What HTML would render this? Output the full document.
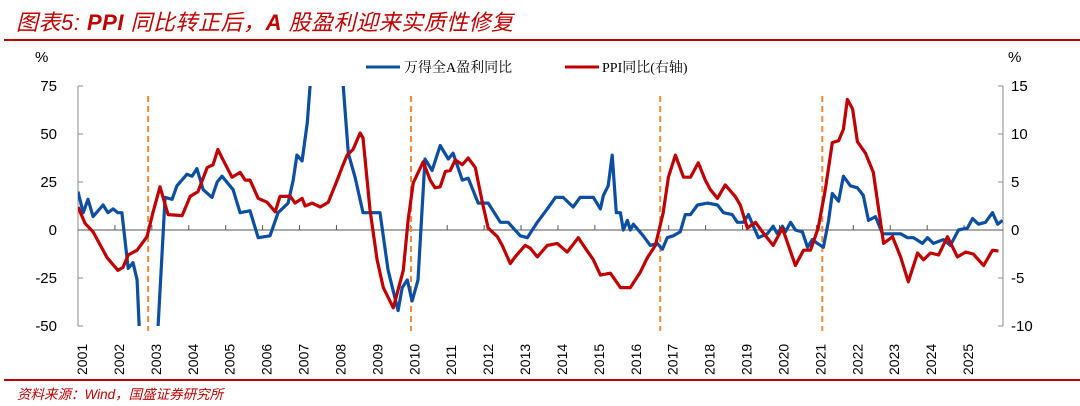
<!DOCTYPE html>
<html><head><meta charset="utf-8">
<style>
html,body{margin:0;padding:0;background:#fff;}
body{width:1080px;height:406px;position:relative;overflow:hidden;}
.title{position:absolute;left:16px;top:5px;font-family:"Liberation Sans","Noto Sans CJK SC",sans-serif;font-style:italic;font-size:22px;color:#c00000;white-space:nowrap;letter-spacing:0.5px;}
.src{position:absolute;left:17px;top:383px;font-family:"Liberation Sans","Noto Sans CJK SC",sans-serif;font-style:italic;font-size:13.5px;color:#c00000;white-space:nowrap;}
svg{position:absolute;left:0;top:0;}
</style></head><body>
<div class="title">图表5: <b>PPI</b> 同比转正后，<b>A</b> 股盈利迎来实质性修复</div>
<div class="src">资料来源：Wind，国盛证券研究所</div>
<svg id="chart" width="1080" height="406"></svg>
<script>
const years = [2001,2002,2003,2004,2005,2006,2007,2008,2009,2010,2011,2012,2013,2014,2015,2016,2017,2018,2019,2020,2021,2022,2023,2024,2025];
const leftTicks = [75,50,25,0,-25,-50];
const rightTicks = [15,10,5,0,-5,-10];
const eventDates = [2002.90,2010.02,2016.77,2021.16];
const profitDates = [2001.00,2001.14,2001.27,2001.41,2001.68,2001.81,2001.95,2002.08,2002.19,2002.36,2002.49,2002.60,2002.68,2002.84,2003.00,2003.17,2003.36,2003.55,2003.68,2003.95,2004.09,2004.22,2004.39,2004.63,2004.77,2004.90,2005.20,2005.39,2005.66,2005.88,2006.20,2006.42,2006.69,2006.83,2006.93,2007.07,2007.21,2007.29,2007.50,2007.82,2008.10,2008.18,2008.32,2008.51,2008.72,2009.18,2009.40,2009.67,2009.78,2009.92,2010.05,2010.21,2010.40,2010.59,2010.81,2011.03,2011.16,2011.41,2011.57,2011.84,2012.11,2012.44,2012.65,2012.98,2013.17,2013.44,2013.71,2013.93,2014.14,2014.41,2014.60,2014.96,2015.15,2015.23,2015.36,2015.47,2015.58,2015.69,2015.77,2015.88,2015.96,2016.04,2016.31,2016.50,2016.69,2016.83,2016.96,2017.12,2017.31,2017.45,2017.59,2017.78,2018.05,2018.32,2018.48,2018.72,2018.86,2019.02,2019.16,2019.29,2019.43,2019.67,2019.83,2019.94,2020.08,2020.16,2020.30,2020.43,2020.62,2020.76,2020.89,2021.03,2021.19,2021.33,2021.43,2021.60,2021.73,2021.92,2022.11,2022.27,2022.41,2022.60,2022.79,2023.28,2023.47,2023.63,2023.87,2024.01,2024.17,2024.44,2024.63,2024.85,2025.09,2025.23,2025.39,2025.58,2025.77,2025.91,2026.04];
const profitValues = [20,9,16,7,13,9,11,9,9,-20,-17,-26,-60,-65,-60,-50,17,16,23,29,28,32,21,17,25,28,21,9,10,-4,-3,9,14,26,39,36,56,76,110,125,95,76,40,27,9,9,-21,-42,-30,-26,-37,-26,37,31,44,37,40,26,27,14,14,4,4,-3,-4,4,11,17,17,12,17,17,11,18,23,39,9,9,0,5,0,3,-3,-8,-7,-10,-4,-3,-1,8,8,13,14,13,9,8,4,4,8,2,-4,-2,2,-2,2,-1,4,0,-1,-9,-5,-7,-9,5,19,15,28,23,22,18,5,7,-2,-2,-4,-4,-7,-4,-7,-5,-8,0,1,6,3,4,9,3,5];
const ppiDates = [2001.00,2001.19,2001.41,2001.79,2002.08,2002.22,2002.36,2002.60,2002.87,2003.03,2003.22,2003.44,2003.82,2004.04,2004.25,2004.50,2004.66,2004.79,2004.93,2005.17,2005.39,2005.53,2005.66,2005.88,2006.12,2006.34,2006.47,2006.75,2006.88,2007.07,2007.15,2007.34,2007.56,2007.78,2008.02,2008.18,2008.29,2008.45,2008.64,2008.72,2008.91,2009.10,2009.27,2009.54,2009.81,2009.94,2010.08,2010.35,2010.54,2010.67,2010.81,2010.95,2011.08,2011.22,2011.41,2011.57,2011.76,2011.95,2012.11,2012.36,2012.49,2012.71,2012.84,2013.11,2013.25,2013.44,2013.71,2013.98,2014.25,2014.55,2014.74,2014.96,2015.15,2015.42,2015.69,2015.96,2016.23,2016.42,2016.64,2016.85,2016.99,2017.18,2017.40,2017.59,2017.80,2017.99,2018.13,2018.32,2018.53,2018.80,2018.94,2019.13,2019.35,2019.56,2019.83,2020.08,2020.43,2020.65,2020.84,2021.05,2021.24,2021.43,2021.60,2021.73,2021.84,2021.98,2022.11,2022.33,2022.54,2022.82,2023.06,2023.28,2023.49,2023.74,2023.90,2024.09,2024.31,2024.55,2024.82,2025.04,2025.25,2025.53,2025.77,2025.93];
const ppiValues = [2.4,0.7,-0.2,-2.9,-4.2,-3.9,-2.6,-2.1,-0.7,1.8,4.5,1.6,1.5,3.5,4.0,6.5,6.8,8.4,7.3,5.5,6.0,5.2,5.2,3.3,2.9,1.9,3.5,3.5,2.8,3.3,2.5,2.8,2.4,2.9,5.2,6.8,7.8,8.4,10.1,9.6,2.1,-3.1,-6.0,-8.1,-4.2,1.0,4.9,7.1,5.2,4.4,4.5,6.1,6.2,7.3,6.8,7.5,6.5,2.9,0.2,-0.7,-1.6,-3.5,-2.8,-1.6,-1.9,-2.8,-1.6,-1.4,-2.3,-0.8,-1.9,-3.1,-4.7,-4.5,-6.0,-6.0,-4.4,-2.9,-1.6,1.8,5.5,7.8,5.5,5.5,7.0,5.2,4.2,3.3,4.7,3.5,2.6,0.2,0.8,-0.3,-1.6,0.2,-3.7,-2.1,-2.1,0.2,4.2,9.1,9.3,10.5,13.6,12.6,9.2,8.0,6.0,-1.4,-0.7,-2.8,-5.4,-2.4,-3.1,-2.4,-2.6,-0.7,-2.8,-2.3,-2.5,-3.7,-2.1,-2.2];

const NS='http://www.w3.org/2000/svg';
const svg=document.getElementById('chart');
const X0=78,X1=1001,YT=86,YB=326;
const xs=t=>X0+(t-2001)*(X1-X0)/25;
const yL=v=>230-(v)*(YB-YT)/125;
const yR=v=>230-(v)*(YB-YT)/25;
function mk(tag,attrs,parent){const e=document.createElementNS(NS,tag);for(const k in attrs)e.setAttribute(k,attrs[k]);(parent||svg).appendChild(e);return e;}
const FONT='"Liberation Sans","Noto Sans CJK SC",sans-serif';

// lines for title/footer
const tl=mk('line',{x1:4,y1:40,x2:1080,y2:40,stroke:'#c00000','stroke-width':2});


const fl=mk('line',{x1:4,y1:380,x2:1080,y2:380,stroke:'#c00000','stroke-width':2});



// clip
const defs=mk('defs',{});
const cp=mk('clipPath',{id:'plotclip'},defs);
mk('rect',{x:X0,y:YT,width:X1-X0+2,height:YB-YT},cp);

// axes
const la=mk('line',{x1:X0,y1:YT,x2:X0,y2:YB,stroke:'#888','stroke-width':1});


const ra=mk('line',{x1:1003,y1:YT,x2:1003,y2:YB,stroke:'#888','stroke-width':1});


leftTicks.forEach(v=>{
  mk('line',{x1:X0,y1:yL(v),x2:X0+5,y2:yL(v),stroke:'#888','stroke-width':1});
  const t=mk('text',{x:57,y:yL(v)+5,'text-anchor':'end','font-family':FONT,'font-size':15,fill:'#000'});
  t.textContent=v;
  
  
});
rightTicks.forEach(v=>{
  mk('line',{x1:1003,y1:yR(v),x2:998,y2:yR(v),stroke:'#888','stroke-width':1});
  const t=mk('text',{x:1011,y:yR(v)+5,'text-anchor':'start','font-family':FONT,'font-size':15,fill:'#000'});
  t.textContent=v;
  
  
});
const pl=mk('text',{x:35,y:62,'font-family':FONT,'font-size':15,fill:'#000'});pl.textContent='%';


const pr=mk('text',{x:1008,y:62,'font-family':FONT,'font-size':15,fill:'#000'});pr.textContent='%';



// zero line
const z=mk('line',{x1:X0,y1:230,x2:1003,y2:230,stroke:'#555','stroke-width':1});


years.forEach(y=>{
  const x=xs(y);
  if(y>2001) mk('line',{x1:x,y1:230,x2:x,y2:225,stroke:'#555','stroke-width':1});
  const t=mk('text',{x:0,y:0,transform:`translate(${x+9},375) rotate(-90)`,'font-family':FONT,'font-size':14,fill:'#000'});
  t.textContent=y;
  
  
});

// event lines
eventDates.forEach(d=>{
  const l=mk('line',{x1:xs(d),y1:96,x2:xs(d),y2:331,stroke:'#f08a3c','stroke-width':2,'stroke-dasharray':'6,4'});
  
  
});

function path(dates,vals,yf){return dates.map((d,i)=>(i?'L':'M')+xs(d).toFixed(1)+','+yf(vals[i]).toFixed(1)).join(' ');}
const g=mk('g',{'clip-path':'url(#plotclip)'});
const bp=mk('path',{d:path(profitDates,profitValues,yL),fill:'none',stroke:'#0b4ea2','stroke-width':3.2,'stroke-linejoin':'round'},g);


const rp=mk('path',{d:path(ppiDates,ppiValues,yR),fill:'none',stroke:'#c00000','stroke-width':3.2,'stroke-linejoin':'round'},g);



// legend
const LF='"Liberation Serif","Noto Serif CJK SC",serif';
const l1=mk('line',{x1:366,y1:67,x2:400,y2:67,stroke:'#0b4ea2','stroke-width':3});


const t1=mk('text',{x:404,y:72,'font-family':LF,'font-size':14,fill:'#000'});t1.textContent='万得全A盈利同比';


const l2=mk('line',{x1:565,y1:67,x2:599,y2:67,stroke:'#c00000','stroke-width':3});


const t2=mk('text',{x:602,y:72,'font-family':LF,'font-size':14,fill:'#000'});t2.textContent='PPI同比(右轴)';


</script>
</body></html>
